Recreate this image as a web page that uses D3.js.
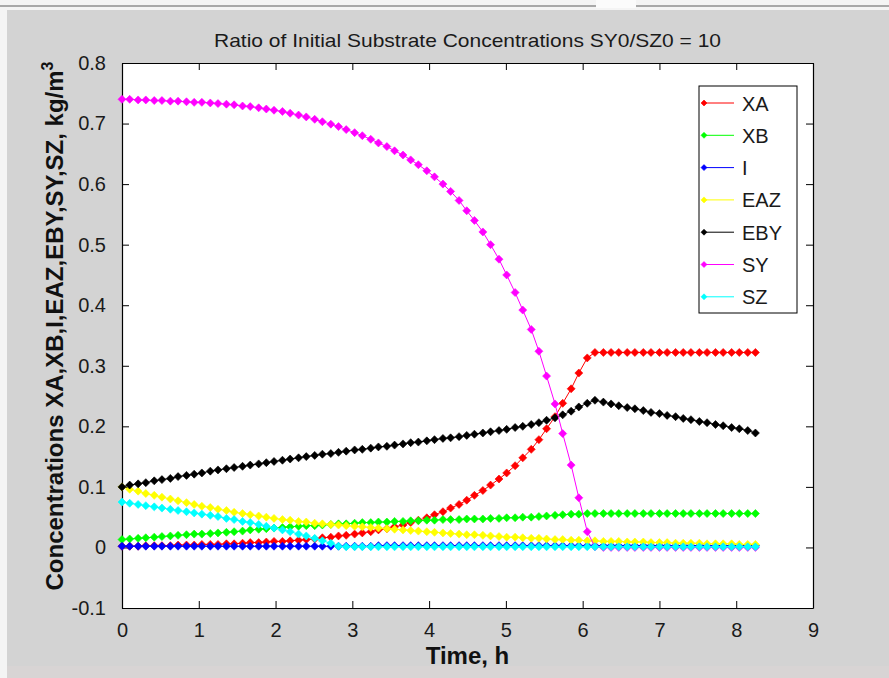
<!DOCTYPE html>
<html>
<head>
<meta charset="utf-8">
<script src="https://cdn.jsdelivr.net/npm/d3@7"></script>
<style>
  body { margin: 0; background: #d2d2d2; }
  svg { display: block; }
</style>
</head>
<body>
<div id="chart"></div>
<script>
// time points (h)
const times = [0, 0.10, 0.21, 0.31, 0.42, 0.52, 0.63, 0.73, 0.84, 0.94,
  1.04, 1.15, 1.25, 1.36, 1.46, 1.57, 1.67, 1.78, 1.88, 1.98,
  2.09, 2.19, 2.30, 2.40, 2.51, 2.61, 2.72, 2.82, 2.92, 3.03,
  3.13, 3.24, 3.34, 3.45, 3.55, 3.66, 3.76, 3.86, 3.97, 4.07,
  4.18, 4.28, 4.39, 4.49, 4.59, 4.70, 4.80, 4.91, 5.01, 5.12,
  5.22, 5.33, 5.43, 5.53, 5.64, 5.74, 5.85, 5.95, 6.06, 6.16,
  6.27, 6.37, 6.47, 6.58, 6.68, 6.79, 6.89, 7.00, 7.10, 7.21,
  7.31, 7.41, 7.52, 7.62, 7.73, 7.83, 7.94, 8.04, 8.15, 8.25]

const XA = [0.002, 0.002, 0.002, 0.003, 0.003, 0.003, 0.003, 0.004, 0.004, 0.004,
  0.005, 0.005, 0.005, 0.006, 0.006, 0.007, 0.008, 0.008, 0.009, 0.010,
  0.010, 0.011, 0.012, 0.013, 0.014, 0.016, 0.017, 0.019, 0.020, 0.022,
  0.024, 0.026, 0.029, 0.031, 0.034, 0.037, 0.041, 0.045, 0.049, 0.054,
  0.059, 0.065, 0.071, 0.078, 0.086, 0.094, 0.103, 0.113, 0.123, 0.135,
  0.148, 0.162, 0.178, 0.196, 0.216, 0.238, 0.262, 0.288, 0.313, 0.322,
  0.322, 0.322, 0.322, 0.322, 0.322, 0.322, 0.322, 0.322, 0.322, 0.322,
  0.322, 0.322, 0.322, 0.322, 0.322, 0.322, 0.322, 0.322, 0.322, 0.322]

const XB = [0.013, 0.014, 0.015, 0.016, 0.017, 0.018, 0.019, 0.020, 0.021, 0.022,
  0.022, 0.023, 0.024, 0.025, 0.026, 0.027, 0.029, 0.030, 0.031, 0.032,
  0.033, 0.034, 0.035, 0.036, 0.036, 0.037, 0.038, 0.039, 0.039, 0.040,
  0.041, 0.041, 0.042, 0.042, 0.043, 0.043, 0.044, 0.044, 0.045, 0.045,
  0.046, 0.046, 0.046, 0.047, 0.047, 0.047, 0.048, 0.048, 0.049, 0.049,
  0.050, 0.050, 0.051, 0.052, 0.053, 0.054, 0.055, 0.055, 0.056, 0.056,
  0.056, 0.056, 0.056, 0.056, 0.056, 0.056, 0.056, 0.056, 0.056, 0.056,
  0.056, 0.056, 0.056, 0.056, 0.056, 0.056, 0.056, 0.056, 0.056, 0.056]

const I = [0.002, 0.002, 0.002, 0.002, 0.002, 0.002, 0.002, 0.002, 0.002, 0.002,
  0.002, 0.002, 0.002, 0.002, 0.002, 0.002, 0.002, 0.002, 0.002, 0.002,
  0.002, 0.002, 0.002, 0.002, 0.002, 0.002, 0.002, 0.002, 0.002, 0.002,
  0.002, 0.002, 0.003, 0.003, 0.003, 0.003, 0.003, 0.003, 0.003, 0.003,
  0.003, 0.003, 0.003, 0.003, 0.003, 0.003, 0.003, 0.003, 0.003, 0.003,
  0.003, 0.003, 0.003, 0.003, 0.003, 0.003, 0.003, 0.003, 0.003, 0.003,
  0.003, 0.003, 0.003, 0.003, 0.003, 0.003, 0.003, 0.003, 0.003, 0.003,
  0.003, 0.003, 0.003, 0.003, 0.003, 0.003, 0.003, 0.003, 0.003, 0.003]

const EAZ = [0.100, 0.096, 0.093, 0.089, 0.086, 0.083, 0.080, 0.077, 0.074, 0.071,
  0.068, 0.066, 0.063, 0.061, 0.058, 0.056, 0.054, 0.052, 0.050, 0.048,
  0.046, 0.045, 0.043, 0.042, 0.040, 0.039, 0.038, 0.037, 0.036, 0.035,
  0.034, 0.033, 0.032, 0.031, 0.030, 0.029, 0.028, 0.027, 0.026, 0.025,
  0.024, 0.023, 0.022, 0.021, 0.021, 0.020, 0.019, 0.018, 0.017, 0.017,
  0.016, 0.015, 0.015, 0.014, 0.013, 0.013, 0.012, 0.012, 0.011, 0.011,
  0.010, 0.010, 0.010, 0.009, 0.009, 0.009, 0.008, 0.008, 0.008, 0.007,
  0.007, 0.007, 0.007, 0.006, 0.006, 0.006, 0.006, 0.005, 0.005, 0.005]

const EBY = [0.100, 0.103, 0.105, 0.107, 0.110, 0.112, 0.114, 0.117, 0.119, 0.121,
  0.123, 0.126, 0.128, 0.130, 0.132, 0.134, 0.136, 0.138, 0.140, 0.142,
  0.144, 0.146, 0.148, 0.150, 0.152, 0.154, 0.155, 0.157, 0.159, 0.161,
  0.162, 0.164, 0.166, 0.167, 0.169, 0.171, 0.173, 0.174, 0.176, 0.178,
  0.180, 0.181, 0.183, 0.185, 0.187, 0.189, 0.191, 0.193, 0.195, 0.198,
  0.200, 0.203, 0.206, 0.210, 0.214, 0.219, 0.225, 0.232, 0.238, 0.243,
  0.240, 0.237, 0.234, 0.231, 0.229, 0.226, 0.223, 0.221, 0.218, 0.216,
  0.213, 0.211, 0.208, 0.206, 0.203, 0.201, 0.198, 0.196, 0.193, 0.189]

const SY = [0.740, 0.740, 0.739, 0.739, 0.738, 0.738, 0.737, 0.737, 0.736, 0.735,
  0.735, 0.734, 0.733, 0.732, 0.731, 0.729, 0.728, 0.726, 0.724, 0.722,
  0.720, 0.717, 0.714, 0.711, 0.707, 0.703, 0.699, 0.695, 0.690, 0.685,
  0.680, 0.674, 0.668, 0.662, 0.655, 0.648, 0.640, 0.632, 0.622, 0.612,
  0.600, 0.588, 0.573, 0.556, 0.540, 0.521, 0.500, 0.476, 0.450, 0.421,
  0.392, 0.360, 0.324, 0.283, 0.237, 0.188, 0.136, 0.082, 0.026, 0.001,
  0.000, 0.000, 0.000, 0.000, 0.000, 0.000, 0.000, 0.000, 0.000, 0.000,
  0.000, 0.000, 0.000, 0.000, 0.000, 0.000, 0.000, 0.000, 0.000, 0.000]

const SZ = [0.075, 0.073, 0.071, 0.069, 0.067, 0.065, 0.063, 0.061, 0.059, 0.057,
  0.055, 0.053, 0.051, 0.048, 0.046, 0.043, 0.041, 0.038, 0.035, 0.032,
  0.029, 0.026, 0.022, 0.019, 0.015, 0.011, 0.007, 0.002, 0.001, 0.001,
  0.001, 0.001, 0.001, 0.001, 0.001, 0.001, 0.001, 0.001, 0.001, 0.001,
  0.001, 0.001, 0.001, 0.001, 0.001, 0.001, 0.001, 0.001, 0.001, 0.001,
  0.001, 0.001, 0.001, 0.001, 0.001, 0.001, 0.001, 0.001, 0.001, 0.001,
  0.001, 0.001, 0.001, 0.001, 0.001, 0.001, 0.001, 0.001, 0.001, 0.001,
  0.001, 0.001, 0.001, 0.001, 0.001, 0.001, 0.001, 0.001, 0.001, 0.001]

const seriesNames = ["XA", "XB", "I", "EAZ", "EBY", "SY", "SZ"]
const seriesValues = [XA, XB, I, EAZ, EBY, SY, SZ]
const seriesColors = ["#ff0000", "#00ff00", "#0000ff", "#ffff00", "#000000", "#ff00ff", "#00ffff"]

const xTicks = [0, 1, 2, 3, 4, 5, 6, 7, 8, 9]
const yTicks = [-0.1, 0, 0.1, 0.2, 0.3, 0.4, 0.5, 0.6, 0.7, 0.8]

const W = 889, H = 678
const margin = {left: 122, top: 63, right: 76, bottom: 70}
const iw = W - margin.left - margin.right
const ih = H - margin.top - margin.bottom

const svg = d3.select("#chart").append("svg")
  .attr("width", W)
  .attr("height", H)

// window frame bits
svg.append("rect").attr("width", W).attr("height", H).attr("fill", "#d3d3d3")
svg.append("rect").attr("width", W).attr("height", 10).attr("fill", "#f4f4f4")
svg.append("rect").attr("y", 5).attr("width", W).attr("height", 2).attr("fill", "#a8a8a8")
svg.append("rect").attr("x", 596).attr("width", 40).attr("height", 8).attr("fill", "#fbfbfb")
svg.append("rect").attr("y", 10).attr("width", 7).attr("height", H - 10).attr("fill", "#f4f4f4")
svg.append("rect").attr("y", 666).attr("x", 7).attr("width", W).attr("height", 12).attr("fill", "#d8d4d4")

const x = d3.scaleLinear().domain([0, 9]).range([0, iw])
const y = d3.scaleLinear().domain([-0.1, 0.8]).range([ih, 0])

const g = svg.append("g").attr("transform", `translate(${margin.left},${margin.top})`)

g.append("rect").attr("width", iw).attr("height", ih).attr("fill", "#ffffff")

const fmtY = d => String(+d.toFixed(1))
const tickFont = "'Liberation Sans', Arial, sans-serif"

// axes with ticks pointing inward
const xAxisB = g.append("g").attr("transform", `translate(0,${ih})`)
  .call(d3.axisBottom(x).tickValues(xTicks).tickSizeInner(-7).tickSizeOuter(0).tickPadding(15))
const xAxisT = g.append("g")
  .call(d3.axisTop(x).tickValues(xTicks).tickSizeInner(-7).tickSizeOuter(0).tickFormat(""))
const yAxisL = g.append("g")
  .call(d3.axisLeft(y).tickValues(yTicks).tickSizeInner(-7).tickSizeOuter(0).tickPadding(16).tickFormat(fmtY))
const yAxisR = g.append("g").attr("transform", `translate(${iw},0)`)
  .call(d3.axisRight(y).tickValues(yTicks).tickSizeInner(-7).tickSizeOuter(0).tickFormat(""))

;[xAxisB, xAxisT, yAxisL, yAxisR].forEach(a => {
  a.select(".domain").attr("stroke", "#000").attr("stroke-width", 1.2)
  a.selectAll(".tick line").attr("stroke", "#000")
  a.selectAll("text").attr("font-family", tickFont).attr("font-size", 20).attr("fill", "#1a1a1a")
})
xAxisB.selectAll(".tick text").attr("dy", "0.71em")

// series lines and diamond markers
const diamond = r => `M0,${-r}L${r},0L0,${r}L${-r},0Z`
const line = d3.line().x((d, i) => x(times[i])).y(d => y(d))

seriesValues.forEach((vals, k) => {
  const sg = g.append("g")
  sg.append("path")
    .datum(vals)
    .attr("d", line)
    .attr("fill", "none")
    .attr("stroke", seriesColors[k])
    .attr("stroke-width", 1)
  sg.selectAll("path.m")
    .data(vals)
    .join("path")
    .attr("class", "m")
    .attr("transform", (d, i) => `translate(${x(times[i])},${y(d)})`)
    .attr("d", diamond(4))
    .attr("fill", seriesColors[k])
    .attr("stroke", seriesColors[k])
    .attr("stroke-width", 0.6)
})

// legend
const lg = svg.append("g").attr("transform", "translate(699,86)")
lg.append("rect").attr("width", 98).attr("height", 227)
  .attr("fill", "#fff").attr("stroke", "#000").attr("stroke-width", 1)
seriesNames.forEach((name, k) => {
  const yy = 17 + k * 32.3
  lg.append("line").attr("x1", 3).attr("x2", 35).attr("y1", yy).attr("y2", yy)
    .attr("stroke", seriesColors[k]).attr("stroke-width", 1)
  lg.append("path").attr("transform", `translate(5,${yy})`).attr("d", diamond(3))
    .attr("fill", seriesColors[k]).attr("stroke", seriesColors[k]).attr("stroke-width", 0.6)
  lg.append("text").attr("x", 43).attr("y", yy + 7.5)
    .attr("font-family", tickFont).attr("font-size", 20).attr("fill", "#1a1a1a")
    .text(name)
})

// title
svg.append("text")
  .attr("x", margin.left + iw / 2).attr("y", 47)
  .attr("text-anchor", "middle")
  .attr("font-family", "'Liberation Sans Narrow', 'Liberation Sans', Arial, sans-serif")
  .attr("font-size", 19)
  .attr("fill", "#1a1a1a")
  .attr("textLength", 507).attr("lengthAdjust", "spacingAndGlyphs")
  .text("Ratio of Initial Substrate Concentrations SY0/SZ0 = 10")

// axis labels
svg.append("text")
  .attr("x", margin.left + iw / 2).attr("y", 664)
  .attr("text-anchor", "middle")
  .attr("font-family", tickFont).attr("font-size", 24).attr("font-weight", "bold")
  .attr("fill", "#111")
  .text("Time, h")

const yl = svg.append("text")
  .attr("transform", "translate(63,326) rotate(-90)")
  .attr("text-anchor", "middle")
  .attr("font-family", tickFont).attr("font-size", 24).attr("font-weight", "bold")
  .attr("fill", "#111")
yl.append("tspan").text("Concentrations XA,XB,I,EAZ,EBY,SY,SZ, kg/m")
yl.append("tspan").attr("font-size", 16).attr("dy", -10).text("3")
</script>
</body>
</html>
